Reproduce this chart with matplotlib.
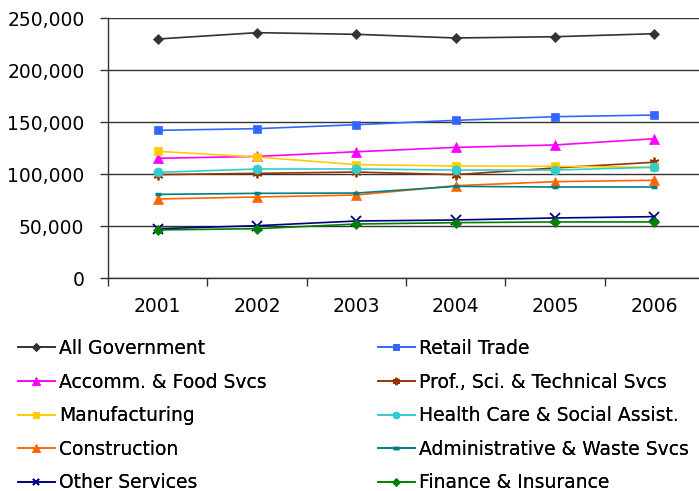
import numpy as np
import matplotlib
matplotlib.use("Agg")
import matplotlib.pyplot as plt
from matplotlib.ticker import FuncFormatter, FixedLocator

years = ["2001", "2002", "2003", "2004", "2005", "2006"]

all_government = [229800, 235900, 234300, 230800, 232000, 234900]
retail_trade = [142000, 143600, 147400, 151600, 155100, 156700]
accomm_food = [115100, 116900, 121400, 125600, 127900, 133900]
prof_sci_tech = [99400, 100600, 101900, 99400, 105800, 111300]
manufacturing = [121800, 116300, 109000, 107700, 107400, 106400]
health_care = [101600, 104800, 104800, 103800, 103800, 106500]
construction = [76000, 77900, 79800, 88800, 92600, 94000]
admin_waste = [80400, 81400, 81700, 88100, 87500, 87500]
other_services = [47400, 50300, 54800, 55800, 57700, 59000]
finance_insurance = [46200, 47400, 51900, 53200, 53900, 53900]

# label, data, colour, marker, marker size
series = [
    ("All Government", all_government, "#333333", "D", 5.5),
    ("Retail Trade", retail_trade, "#3366FF", "s", 6),
    ("Accomm. & Food Svcs", accomm_food, "#FF00FF", "^", 7),
    ("Prof., Sci. & Technical Svcs", prof_sci_tech, "#993300", (6, 2, 0), 7),
    ("Manufacturing", manufacturing, "#FFCC00", "s", 6),
    ("Health Care & Social Assist.", health_care, "#33CCCC", "o", 6.5),
    ("Construction", construction, "#FF6600", "^", 7),
    ("Administrative & Waste Svcs", admin_waste, "#008080", "_", 5),
    ("Other Services", other_services, "#000080", "x", 6.5),
    ("Finance & Insurance", finance_insurance, "#008000", "D", 5.5),
]

fig = plt.figure(figsize=(6.99, 4.91), dpi=100)
ax = fig.add_axes([108 / 699, 213 / 491, 596 / 699, 260 / 491])

x = np.arange(len(years))
handles = {}
for label, vals, col, mk, ms in series:
    mew = 2.5 if mk == "_" else (1.3 if mk in ("x",) or isinstance(mk, tuple) else 0.5)
    h, = ax.plot(x, vals, color=col, lw=1.2, marker=mk, markersize=ms,
                 markerfacecolor=col, markeredgecolor=col, markeredgewidth=mew,
                 label=label, clip_on=False, zorder=3)
    handles[label] = h

ax.set_xlim(-0.5, 5.5)
ax.set_ylim(0, 250000)
ax.set_yticks(np.arange(0, 250001, 50000))
ax.yaxis.set_major_formatter(FuncFormatter(lambda v, p: f"{int(v):,}"))
ax.grid(axis="y", color="#333333", lw=1.0)
ax.set_axisbelow(True)

ax.xaxis.set_major_locator(FixedLocator(np.arange(-0.5, 6.0, 1.0)))
ax.xaxis.set_minor_locator(FixedLocator(x))
ax.set_xticklabels([])
ax.set_xticklabels(years, minor=True)
ax.tick_params(axis="x", which="major", length=6, width=1, color="#333333")
ax.tick_params(axis="x", which="minor", length=0, pad=14, labelsize=13.5)
ax.tick_params(axis="y", length=6, width=1, color="#333333", pad=11, labelsize=13.5)

for s in ("top", "right"):
    ax.spines[s].set_visible(False)
for s in ("left", "bottom"):
    ax.spines[s].set_color("#333333")
    ax.spines[s].set_linewidth(1.0)

col1 = ["All Government", "Accomm. & Food Svcs", "Manufacturing", "Construction", "Other Services"]
col2 = ["Retail Trade", "Prof., Sci. & Technical Svcs", "Health Care & Social Assist.",
        "Administrative & Waste Svcs", "Finance & Insurance"]

for names, xpos in ((col1, 18 / 699), (col2, 378 / 699)):
    leg = fig.legend([handles[n] for n in names], names, loc="upper left",
                     bbox_to_anchor=(xpos, 1 - 339 / 491), frameon=False,
                     fontsize=13.5, handlelength=1.95, handletextpad=0.25,
                     labelspacing=0.78, borderpad=0, borderaxespad=0,
                     markerscale=0.75)
    fig.add_artist(leg)

fig.savefig("out.png", dpi=100)
